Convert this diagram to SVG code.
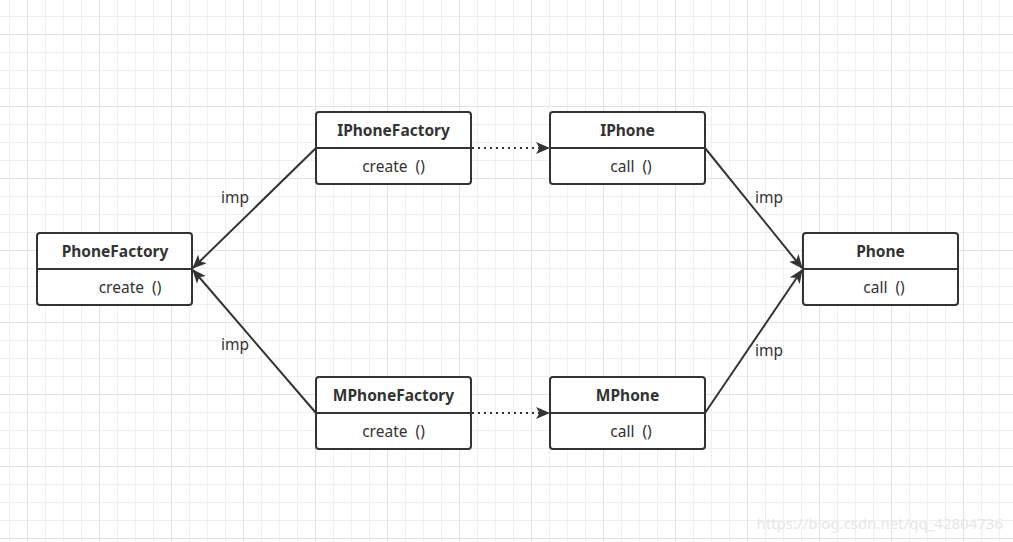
<svg xmlns="http://www.w3.org/2000/svg" width="1013" height="542" viewBox="0 0 1013 542">
<style>
.box{fill:#fff;stroke:#333;stroke-width:2}
.div{stroke:#333;stroke-width:2}
.t{font-family:"Noto Sans","Liberation Sans",sans-serif;font-size:15.5px;fill:#333;text-anchor:middle;white-space:pre}
.b{font-weight:bold}
.edge{stroke:#333;stroke-width:2;fill:none}
.dot{stroke-dasharray:2 4}
.lbl{font-family:"Noto Sans","Liberation Sans",sans-serif;font-size:15.5px;fill:#333;text-anchor:middle}
</style>
<defs>
<pattern id="grid" patternUnits="userSpaceOnUse" x="27" y="34" width="72" height="72">
<path d="M18.5 0V72M36.5 0V72M54.5 0V72M0 18.5H72M0 36.5H72M0 54.5H72" stroke="#f0f0f0" stroke-width="1" fill="none"/>
<path d="M0.5 0V72M0 0.5H72" stroke="#e2e2e2" stroke-width="1" fill="none"/>
</pattern>
<marker id="arr" viewBox="0 0 14 12" refX="13" refY="6" markerWidth="14" markerHeight="12" markerUnits="userSpaceOnUse" orient="auto">
<path d="M0 0L14 6L0 12L3.5 6Z" fill="#333"/>
</marker>
</defs>
<rect width="1013" height="542" fill="#fff"/>
<rect width="1013" height="542" fill="url(#grid)"/>
<g id="connectors">
<line class="edge" x1="316" y1="148" x2="193" y2="268" marker-end="url(#arr)"/>
<line class="edge" x1="316" y1="413" x2="193" y2="270" marker-end="url(#arr)"/>
<line class="edge dot" x1="472" y1="148" x2="549" y2="148" marker-end="url(#arr)"/>
<line class="edge dot" x1="472" y1="413" x2="549" y2="413" marker-end="url(#arr)"/>
<line class="edge" x1="705" y1="148" x2="802" y2="268" marker-end="url(#arr)"/>
<line class="edge" x1="705" y1="413" x2="802" y2="270" marker-end="url(#arr)"/>
<text class="lbl" x="235" y="203">imp</text>
<text class="lbl" x="235" y="350">imp</text>
<text class="lbl" x="769" y="203">imp</text>
<text class="lbl" x="769" y="356">imp</text>
</g>
<g id="PhoneFactory">
<rect class="box" x="37" y="233" width="155" height="72" rx="3"/>
<line class="div" x1="37" y1="269" x2="192" y2="269"/>
<text class="t b" x="115" y="257">PhoneFactory</text>
<text class="t" x="130" y="293" xml:space="preserve">create  ()</text>
</g>
<g id="IPhoneFactory">
<rect class="box" x="316" y="112" width="155" height="72" rx="3"/>
<line class="div" x1="316" y1="148" x2="471" y2="148"/>
<text class="t b" x="393.5" y="136">IPhoneFactory</text>
<text class="t" x="393.5" y="172" xml:space="preserve">create  ()</text>
</g>
<g id="IPhone">
<rect class="box" x="550" y="112" width="155" height="72" rx="3"/>
<line class="div" x1="550" y1="148" x2="705" y2="148"/>
<text class="t b" x="627.5" y="136">IPhone</text>
<text class="t" x="631" y="172" xml:space="preserve">call  ()</text>
</g>
<g id="Phone">
<rect class="box" x="803" y="233" width="155" height="72" rx="3"/>
<line class="div" x1="803" y1="269" x2="958" y2="269"/>
<text class="t b" x="880.5" y="257">Phone</text>
<text class="t" x="884" y="293" xml:space="preserve">call  ()</text>
</g>
<g id="MPhoneFactory">
<rect class="box" x="316" y="377" width="155" height="72" rx="3"/>
<line class="div" x1="316" y1="413" x2="471" y2="413"/>
<text class="t b" x="393.5" y="401">MPhoneFactory</text>
<text class="t" x="393.5" y="437" xml:space="preserve">create  ()</text>
</g>
<g id="MPhone">
<rect class="box" x="550" y="377" width="155" height="72" rx="3"/>
<line class="div" x1="550" y1="413" x2="705" y2="413"/>
<text class="t b" x="627.5" y="401">MPhone</text>
<text class="t" x="631" y="437" xml:space="preserve">call  ()</text>
</g>
<text x="1003" y="529" font-family="Noto Sans,Liberation Sans,sans-serif" font-size="15" fill="#e6e6e6" text-anchor="end">https://blog.csdn.net/qq_42804736</text>
</svg>
